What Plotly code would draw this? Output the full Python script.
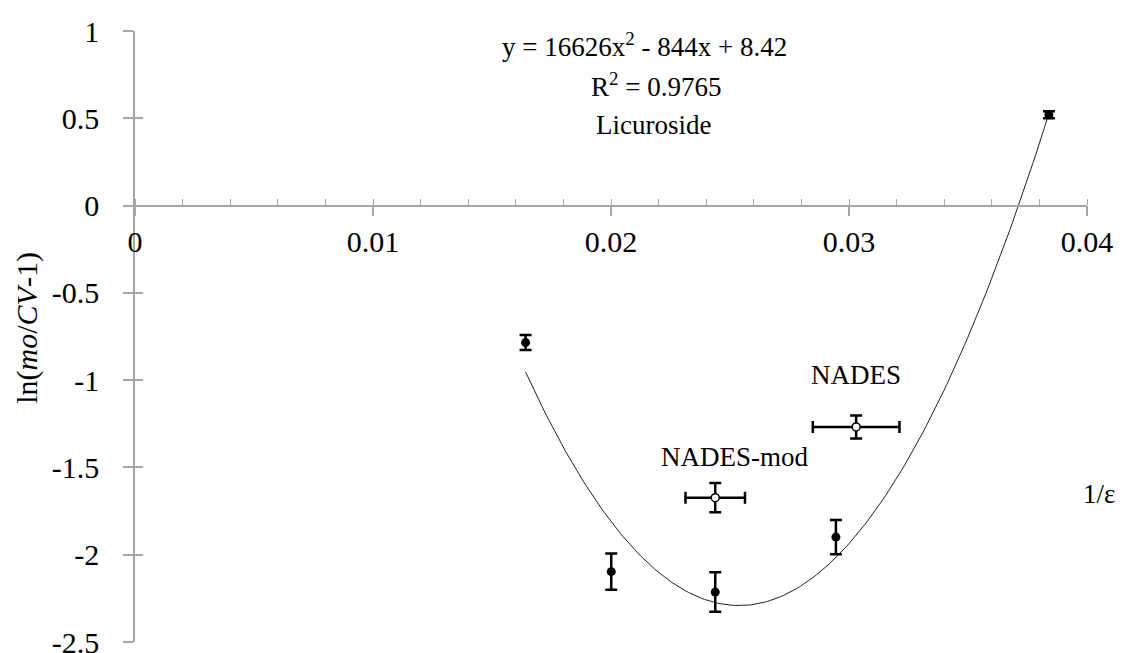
import numpy as np
import plotly.graph_objects as go

# ---- data ----
inv_eps = [0.01641, 0.02001, 0.02438, 0.02945, 0.0384]
ln_vals = [-0.785, -2.097, -2.214, -1.899, 0.52]
ln_err = [0.043, 0.104, 0.113, 0.098, 0.02]

nades_x = [0.02438, 0.03030]
nades_y = [-1.673, -1.268]
nades_xerr = [0.00125, 0.00182]
nades_yerr = [0.084, 0.066]
nades_labels = ["NADES-mod", "NADES"]

# displayed trendline: y = 16626x^2 - 844x + 8.42
trend_coef = [16626, -844, 8.42]
trend_range = [0.01641, 0.0384]

x_ticks = [0, 0.01, 0.02, 0.03, 0.04]
x_ticktext = ["0", "0.01", "0.02", "0.03", "0.04"]
y_ticks = [1, 0.5, 0, -0.5, -1, -1.5, -2, -2.5]
y_ticktext = ["1", "0.5", "0", "-0.5", "-1", "-1.5", "-2", "-2.5"]

FONT = "Liberation Serif, Times New Roman, DejaVu Serif, serif"
AX = "#a6a6a6"

xt = np.linspace(trend_range[0], trend_range[1], 200)
yt = np.polyval(trend_coef, xt)

fig = go.Figure()
fig.add_trace(go.Scatter(x=xt, y=yt, mode="lines",
                         line=dict(color="#222222", width=1), hoverinfo="skip"))
fig.add_trace(go.Scatter(
    x=inv_eps, y=ln_vals, mode="markers",
    marker=dict(color="black", size=9),
    error_y=dict(type="data", array=ln_err, color="black", thickness=2.5, width=6)))
fig.add_trace(go.Scatter(
    x=nades_x, y=nades_y, mode="markers",
    marker=dict(color="white", size=8, line=dict(color="black", width=1.5)),
    error_y=dict(type="data", array=nades_yerr, color="black", thickness=2.5, width=6),
    error_x=dict(type="data", array=nades_xerr, color="black", thickness=2.5, width=6)))
# invisible trace for the inner half of the crossing y ticks
fig.add_trace(go.Scatter(x=[None], y=[None], yaxis="y2", showlegend=False))

fig.update_layout(
    width=1123, height=653, autosize=False,
    margin=dict(l=135, r=36, t=31, b=11, pad=0, autoexpand=False),
    paper_bgcolor="white", plot_bgcolor="white",
    showlegend=False,
    font=dict(family=FONT, color="black", size=27),
    xaxis=dict(range=[0, 0.04], tickvals=x_ticks, ticktext=x_ticktext,
               anchor="free", position=2.5 / 3.5, automargin=False,
               showline=True, linecolor=AX, linewidth=1.5,
               ticks="outside", ticklen=10, tickcolor=AX, tickwidth=1.5,
               minor=dict(dtick=0.002, ticks="inside", ticklen=6, tickcolor=AX, tickwidth=1),
               showgrid=False, zeroline=False, ticklabeloverflow="allow",
               tickfont=dict(family=FONT, size=30, color="black")),
    yaxis=dict(range=[-2.5, 1], tickvals=y_ticks, ticktext=y_ticktext,
               automargin=False,
               showline=True, linecolor=AX, linewidth=1.5,
               ticks="outside", ticklen=10, tickcolor=AX, tickwidth=1.5,
               ticklabelstandoff=18, ticklabeloverflow="allow",
               showgrid=False, zeroline=False,
               tickfont=dict(family=FONT, size=30, color="black")),
    yaxis2=dict(range=[-2.5, 1], overlaying="y", anchor="x", side="left",
                automargin=False,
                tickvals=y_ticks, showticklabels=False, showline=False,
                ticks="inside", ticklen=8, tickcolor=AX, tickwidth=1.5,
                showgrid=False, zeroline=False),
)

annos = [
    dict(x=0.0214, y=0.92, text="y = 16626x<sup>2</sup> - 844x + 8.42"),
    dict(x=0.0219, y=0.69, text="R<sup>2</sup> = 0.9765"),
    dict(x=0.0218, y=0.46, text="Licuroside"),
    dict(x=nades_x[0] + 0.0008, y=-1.44, text=nades_labels[0]),
    dict(x=nades_x[1], y=-0.97, text=nades_labels[1]),
]
for a in annos:
    fig.add_annotation(xref="x", yref="y", showarrow=False, xanchor="center", yanchor="middle",
                       font=dict(family=FONT, size=27, color="black"), **a)
fig.add_annotation(xref="paper", yref="y", x=1.013, y=-1.65, text="1/ε",
                   xanchor="center", yanchor="middle",
                   showarrow=False, font=dict(family=FONT, size=27, color="black"))
fig.add_annotation(xref="paper", yref="paper", x=-0.113, y=0.515,
                   xanchor="center", yanchor="middle",
                   text="ln(<i>mo</i>/<i>CV</i>-1)", textangle=-90, showarrow=False,
                   font=dict(family=FONT, size=30, color="black"))

fig.write_html("out.html", config={"displayModeBar": False},
               post_script="document.body.style.margin='0px';")
